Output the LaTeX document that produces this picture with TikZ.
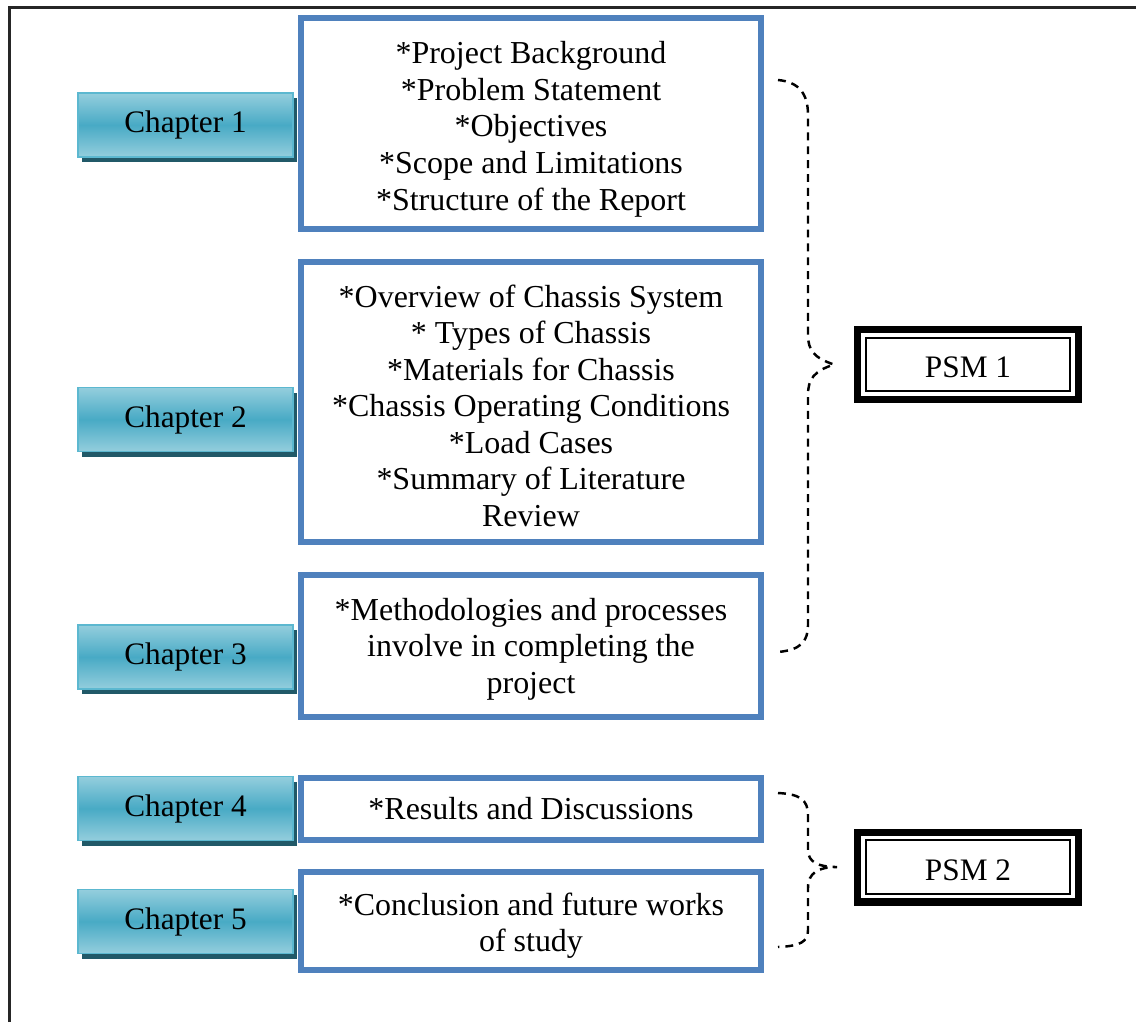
\documentclass[tikz,border=0pt]{standalone}
\usepackage{fontspec}
\setmainfont{Liberation Serif}
\usepackage{tikz}
\usetikzlibrary{shadows}
\usetikzlibrary{calc}
\definecolor{cblue}   {RGB}{79,129,189}
\definecolor{tlight}  {RGB}{148,206,221}
\definecolor{tmid}    {RGB}{72,170,197}
\definecolor{tedge}   {RGB}{92,184,208}
\definecolor{tshadow} {RGB}{33,89,104}
\tikzset{
    chapter/.style={draw=tedge, line width=0.9pt,
             top color=tlight, bottom color=tlight, middle color=tmid,
             minimum width=4.3cm, minimum height=1.28cm,
             font=\fontsize{17.8}{20.8}\selectfont,
             drop shadow={shadow xshift=0.08cm, shadow yshift=-0.1cm, fill=tshadow, opacity=1}
    },
    topic/.style={draw=cblue, line width=3.4pt, fill=white, align=flush center,
             minimum width=9.2cm, text width=8.6cm, inner sep=2pt,
             font=\fontsize{18.2}{20.8}\selectfont,
             execute at begin node={\rule{0pt}{#1}}
    },
    topic/.default=0pt,
    psm/.style={draw=black, line width=4pt, fill=white,
             minimum width=4.42cm, minimum height=1.4cm,
             font=\fontsize{17.8}{20.8}\selectfont,
             execute at begin node={\rule{0pt}{15pt}},
             path picture={\draw[line width=1.1pt]
                 ([shift={(4.6pt,4.6pt)}]path picture bounding box.south west) rectangle
                 ([shift={(-4.6pt,-4.6pt)}]path picture bounding box.north east);}
    },
    bracket/.style={draw=black, line width=1.4pt, dash pattern=on 4.5pt off 3.4pt},
    frame/.style={draw=black!85, line width=1.4pt}
  }

\begin{document}
\begin{tikzpicture}[x=0.02cm, y=-0.02cm]
 \useasboundingbox (0,0) rectangle (1136,1022);
 %page frame
     \draw[frame] (9.5,1022) -- (9.5,7.5) -- (1136,7.5);
 %Chapters
     \node[chapter] (ch1) at (185.5,125)   {Chapter 1};
     \node[chapter] (ch2) at (185.5,419.5) {Chapter 2};
     \node[chapter] (ch3) at (185.5,657)   {Chapter 3};
     \node[chapter] (ch4) at (185.5,808.5) {Chapter 4};
     \node[chapter] (ch5) at (185.5,921.5) {Chapter 5};
 %Contents
     \node[topic=19.2pt, minimum height=4.22cm] (b1) at (531,123.5)
         {*Project Background\\{}*Problem Statement\\{}*Objectives\\{}*Scope and Limitations\\{}*Structure of the Report};
     \node[topic=16.9pt, minimum height=5.6cm] (b2) at (531,402)
         {*Overview of Chassis System\\{}* Types of Chassis\\{}*Materials for Chassis\\{}*Chassis Operating Conditions\\{}*Load Cases\\{}*Summary of Literature\\Review};
     \node[topic=15.9pt, minimum height=2.84cm] (b3) at (531,646)
         {*Methodologies and processes\\involve in completing the\\project};
     \node[topic, minimum height=1.24cm] (b4) at (531,809)
         {*Results and Discussions};
     \node[topic=18.1pt, minimum height=1.96cm] (b5) at (531,921)
         {*Conclusion and future works\\of study};
 %PSM
     \node[psm] (psm1) at (968,364.5) {PSM 1};
     \node[psm] (psm2) at (968,867)   {PSM 2};
 %bracket 1
     \coordinate (t1) at (778,80);
     \coordinate (e1) at (778,652);
     \draw[bracket] (t1) .. controls (800,82) and (808,95) .. (808,115) -- (808,335)
         .. controls (808,350) and (814,358) .. ($(psm1.west)+(-20,0)$)
         .. controls (814,371) and (808,379) .. (808,395) -- (808,625)
         .. controls (808,642) and (800,650) .. (e1);
 %bracket 2
     \coordinate (t2) at (778,793);
     \coordinate (e2) at (778,947);
     \draw[bracket] (t2) .. controls (800,794) and (808,800) .. (808,815) -- (808,850)
         .. controls (808,862) and (818,867) .. ($(psm2.west)+(-17,0)$)
         .. controls (818,867) and (808,873) .. (808,888) -- (808,930)
         .. controls (808,942) and (800,946) .. (e2);
 \end{tikzpicture}
\end{document}
